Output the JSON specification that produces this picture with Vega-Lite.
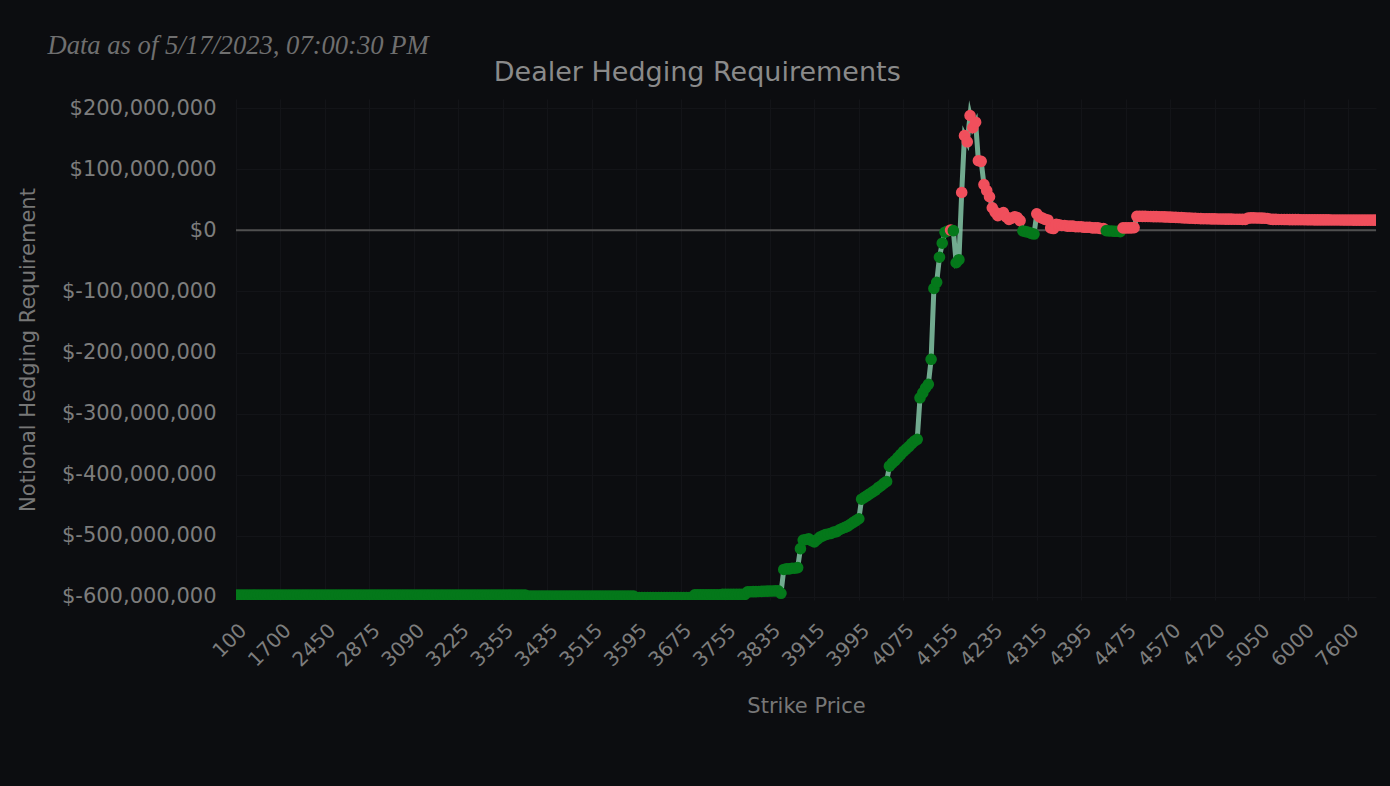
{
  "$schema": "https://vega.github.io/schema/vega-lite/v6.json",
  "background": "#0c0d10",
  "padding": {"left": 17, "top": 32, "right": 15, "bottom": 73},
  "title": {"text": "Data as of 5/17/2023, 07:00:30 PM", "anchor": "start", "frame": "bounds", "dx": 30, "font": "Liberation Serif", "fontStyle": "italic", "fontWeight": "normal", "fontSize": 26.6, "color": "#6f6f6f", "offset": 0},
  "datasets": {
    "d": [
      {"s":100,"v":-597000000},{"s":200,"v":-597000000},{"s":300,"v":-597000000},{"s":400,"v":-597000000},{"s":500,"v":-597000000},{"s":600,"v":-597000000},{"s":700,"v":-597000000},{"s":800,"v":-597000000},{"s":900,"v":-597000000},{"s":1000,"v":-597000000},{"s":1100,"v":-597000000},{"s":1200,"v":-597000000},{"s":1300,"v":-597000000},{"s":1400,"v":-597000000},{"s":1500,"v":-597000000},{"s":1600,"v":-597000000},
      {"s":1700,"v":-597000000},{"s":1750,"v":-597000000},{"s":1800,"v":-597000000},{"s":1850,"v":-597000000},{"s":1900,"v":-597000000},{"s":1950,"v":-597000000},{"s":2000,"v":-597000000},{"s":2050,"v":-597000000},{"s":2100,"v":-597000000},{"s":2150,"v":-597000000},{"s":2200,"v":-597000000},{"s":2250,"v":-597000000},{"s":2300,"v":-597000000},{"s":2350,"v":-597000000},{"s":2400,"v":-597000000},{"s":2425,"v":-597000000},
      {"s":2450,"v":-597000000},{"s":2500,"v":-597000000},{"s":2525,"v":-597000000},{"s":2550,"v":-597000000},{"s":2575,"v":-597000000},{"s":2600,"v":-597000000},{"s":2625,"v":-597000000},{"s":2650,"v":-597000000},{"s":2675,"v":-597000000},{"s":2700,"v":-597000000},{"s":2725,"v":-597000000},{"s":2750,"v":-597000000},{"s":2775,"v":-597000000},{"s":2800,"v":-597000000},{"s":2825,"v":-597000000},{"s":2850,"v":-597000000},
      {"s":2875,"v":-597000000},{"s":2900,"v":-597000000},{"s":2925,"v":-597000000},{"s":2950,"v":-597000000},{"s":2975,"v":-597000000},{"s":3000,"v":-597000000},{"s":3010,"v":-597000000},{"s":3020,"v":-597000000},{"s":3025,"v":-597000000},{"s":3030,"v":-597000000},{"s":3040,"v":-597000000},{"s":3050,"v":-597000000},{"s":3060,"v":-597000000},{"s":3070,"v":-597000000},{"s":3075,"v":-597000000},{"s":3080,"v":-597000000},
      {"s":3090,"v":-597000000},{"s":3100,"v":-597000000},{"s":3110,"v":-597000000},{"s":3120,"v":-597000000},{"s":3125,"v":-597000000},{"s":3130,"v":-597000000},{"s":3140,"v":-597000000},{"s":3150,"v":-597000000},{"s":3160,"v":-597000000},{"s":3170,"v":-597000000},{"s":3175,"v":-597000000},{"s":3180,"v":-597000000},{"s":3190,"v":-597000000},{"s":3200,"v":-597000000},{"s":3210,"v":-597000000},{"s":3220,"v":-597000000},
      {"s":3225,"v":-597000000},{"s":3230,"v":-597000000},{"s":3240,"v":-597000000},{"s":3250,"v":-597000000},{"s":3260,"v":-597000000},{"s":3270,"v":-597000000},{"s":3275,"v":-597000000},{"s":3280,"v":-597000000},{"s":3290,"v":-597000000},{"s":3300,"v":-597000000},{"s":3310,"v":-597000000},{"s":3320,"v":-597000000},{"s":3325,"v":-597000000},{"s":3330,"v":-597000000},{"s":3340,"v":-597000000},{"s":3350,"v":-597000000},
      {"s":3355,"v":-597000000},{"s":3360,"v":-597000000},{"s":3365,"v":-597000000},{"s":3370,"v":-597000000},{"s":3375,"v":-597000000},{"s":3380,"v":-597000000},{"s":3385,"v":-597000000},{"s":3390,"v":-597000000},{"s":3395,"v":-597000000},
      {"s":3400,"v":-598500000},{"s":3405,"v":-598500000},{"s":3410,"v":-598500000},{"s":3415,"v":-598500000},{"s":3420,"v":-598500000},{"s":3425,"v":-598500000},{"s":3430,"v":-598500000},{"s":3435,"v":-598500000},{"s":3440,"v":-598500000},{"s":3445,"v":-598500000},{"s":3450,"v":-598500000},{"s":3455,"v":-598500000},{"s":3460,"v":-598500000},{"s":3465,"v":-598500000},{"s":3470,"v":-598500000},{"s":3475,"v":-598500000},{"s":3480,"v":-598500000},{"s":3485,"v":-598500000},{"s":3490,"v":-598500000},{"s":3495,"v":-598500000},{"s":3500,"v":-598500000},{"s":3505,"v":-598500000},{"s":3510,"v":-598500000},{"s":3515,"v":-598500000},{"s":3520,"v":-598500000},{"s":3525,"v":-598500000},{"s":3530,"v":-598500000},{"s":3535,"v":-598500000},{"s":3540,"v":-598500000},{"s":3545,"v":-598500000},{"s":3550,"v":-598500000},{"s":3555,"v":-598500000},{"s":3560,"v":-598500000},{"s":3565,"v":-598500000},{"s":3570,"v":-598500000},{"s":3575,"v":-598500000},{"s":3580,"v":-598500000},{"s":3585,"v":-598500000},{"s":3590,"v":-598500000},
      {"s":3595,"v":-601000000},{"s":3600,"v":-601000000},{"s":3605,"v":-601000000},{"s":3610,"v":-601000000},{"s":3615,"v":-601000000},{"s":3620,"v":-601000000},{"s":3625,"v":-601000000},{"s":3630,"v":-601000000},{"s":3635,"v":-601000000},{"s":3640,"v":-601000000},{"s":3645,"v":-601000000},{"s":3650,"v":-601000000},{"s":3655,"v":-601000000},{"s":3660,"v":-601000000},{"s":3665,"v":-601000000},{"s":3670,"v":-601000000},{"s":3675,"v":-601000000},{"s":3680,"v":-601000000},{"s":3685,"v":-601000000},{"s":3690,"v":-601000000},{"s":3695,"v":-601000000},
      {"s":3700,"v":-596500000},{"s":3705,"v":-596500000},{"s":3710,"v":-596500000},{"s":3715,"v":-596500000},{"s":3720,"v":-596500000},{"s":3725,"v":-596500000},{"s":3730,"v":-596500000},{"s":3735,"v":-596500000},{"s":3740,"v":-596500000},{"s":3745,"v":-596500000},{"s":3750,"v":-595800000},{"s":3755,"v":-595800000},{"s":3760,"v":-595800000},{"s":3765,"v":-595800000},{"s":3770,"v":-595800000},{"s":3775,"v":-595800000},{"s":3780,"v":-595800000},{"s":3785,"v":-595800000},{"s":3790,"v":-595800000},
      {"s":3795,"v":-591500000},{"s":3800,"v":-591500000},{"s":3805,"v":-591300000},{"s":3810,"v":-591200000},{"s":3815,"v":-591000000},{"s":3820,"v":-590800000},{"s":3825,"v":-590600000},{"s":3830,"v":-590500000},{"s":3835,"v":-590300000},{"s":3840,"v":-590200000},{"s":3845,"v":-590100000},{"s":3850,"v":-590000000},
      {"s":3855,"v":-594000000},
      {"s":3860,"v":-555000000},{"s":3865,"v":-554000000},{"s":3870,"v":-554000000},{"s":3875,"v":-553000000},{"s":3880,"v":-553000000},{"s":3885,"v":-552000000},
      {"s":3890,"v":-521000000},
      {"s":3895,"v":-507000000},{"s":3900,"v":-506000000},{"s":3905,"v":-505000000},{"s":3910,"v":-508000000},{"s":3915,"v":-510000000},{"s":3920,"v":-506000000},{"s":3925,"v":-502000000},{"s":3930,"v":-500000000},{"s":3935,"v":-498000000},{"s":3940,"v":-497000000},{"s":3945,"v":-496000000},{"s":3950,"v":-494000000},{"s":3955,"v":-493000000},
      {"s":3960,"v":-490000000},{"s":3965,"v":-488000000},{"s":3970,"v":-486000000},{"s":3975,"v":-484000000},{"s":3980,"v":-481000000},{"s":3985,"v":-478000000},{"s":3990,"v":-475000000},{"s":3995,"v":-472000000},
      {"s":4000,"v":-440000000},
      {"s":4005,"v":-437000000},{"s":4010,"v":-434000000},{"s":4015,"v":-431000000},{"s":4020,"v":-428000000},{"s":4025,"v":-425000000},{"s":4030,"v":-421000000},{"s":4035,"v":-418000000},{"s":4040,"v":-414000000},{"s":4045,"v":-411000000},
      {"s":4050,"v":-386000000},{"s":4055,"v":-381000000},{"s":4060,"v":-377000000},{"s":4065,"v":-372000000},{"s":4070,"v":-367000000},{"s":4075,"v":-362000000},{"s":4080,"v":-358000000},{"s":4085,"v":-354000000},{"s":4090,"v":-349000000},{"s":4095,"v":-345000000},{"s":4100,"v":-342000000},
      {"s":4105,"v":-274000000},{"s":4110,"v":-266000000},{"s":4115,"v":-258000000},{"s":4120,"v":-252000000},
      {"s":4125,"v":-211000000},{"s":4130,"v":-95000000},{"s":4135,"v":-85000000},{"s":4140,"v":-44000000},{"s":4145,"v":-21000000},{"s":4150,"v":-3000000},{"s":4155,"v":-1000000},{"s":4160,"v":500000},{"s":4165,"v":-500000},{"s":4170,"v":-53000000},{"s":4175,"v":-48000000},
      {"s":4180,"v":62000000},{"s":4185,"v":155000000},{"s":4190,"v":145000000},{"s":4195,"v":188000000},{"s":4200,"v":168000000},{"s":4205,"v":177000000},{"s":4210,"v":114000000},{"s":4215,"v":113000000},{"s":4220,"v":75000000},{"s":4225,"v":65000000},{"s":4230,"v":55000000},{"s":4235,"v":37000000},{"s":4240,"v":30000000},{"s":4245,"v":24000000},{"s":4250,"v":27000000},{"s":4255,"v":29000000},{"s":4260,"v":22000000},{"s":4265,"v":18000000},{"s":4270,"v":20000000},{"s":4275,"v":22000000},{"s":4280,"v":21000000},{"s":4285,"v":16000000},
      {"s":4290,"v":-1000000},{"s":4295,"v":-2000000},{"s":4300,"v":-3000000},{"s":4305,"v":-5000000},{"s":4310,"v":-6000000},
      {"s":4315,"v":27000000},{"s":4320,"v":22000000},{"s":4325,"v":20000000},{"s":4330,"v":18000000},{"s":4335,"v":17000000},{"s":4340,"v":4000000},{"s":4345,"v":3000000},{"s":4350,"v":10000000},{"s":4355,"v":9000000},{"s":4360,"v":8000000},{"s":4365,"v":8000000},{"s":4370,"v":7000000},{"s":4375,"v":7000000},{"s":4380,"v":7000000},{"s":4385,"v":6000000},{"s":4390,"v":6000000},{"s":4395,"v":6000000},{"s":4400,"v":5000000},{"s":4405,"v":5000000},{"s":4410,"v":5000000},{"s":4415,"v":4000000},{"s":4420,"v":4000000},{"s":4425,"v":4000000},{"s":4430,"v":3000000},{"s":4435,"v":3000000},
      {"s":4440,"v":-500000},{"s":4445,"v":-1000000},{"s":4450,"v":-1000000},{"s":4455,"v":-1500000},{"s":4460,"v":-1500000},{"s":4465,"v":-2000000},
      {"s":4470,"v":4000000},{"s":4475,"v":4000000},{"s":4480,"v":4000000},{"s":4485,"v":4000000},{"s":4490,"v":4500000},{"s":4495,"v":23000000},
      {"s":4500,"v":23000000},{"s":4505,"v":22900000},{"s":4510,"v":22800000},{"s":4515,"v":22700000},{"s":4520,"v":22600000},{"s":4525,"v":22500000},{"s":4530,"v":22400000},{"s":4535,"v":22300000},{"s":4540,"v":22200000},{"s":4550,"v":22000000},{"s":4560,"v":21800000},{"s":4570,"v":21600000},{"s":4575,"v":21400000},{"s":4580,"v":21200000},{"s":4590,"v":21000000},{"s":4600,"v":20800000},
      {"s":4610,"v":20500000},{"s":4620,"v":20300000},{"s":4625,"v":20100000},{"s":4630,"v":19900000},{"s":4640,"v":19700000},{"s":4650,"v":19500000},{"s":4660,"v":19300000},{"s":4675,"v":19100000},{"s":4680,"v":19000000},{"s":4700,"v":18900000},{"s":4710,"v":18800000},
      {"s":4720,"v":18700000},{"s":4725,"v":18600000},{"s":4750,"v":18500000},{"s":4775,"v":18500000},{"s":4800,"v":18400000},{"s":4825,"v":18300000},{"s":4850,"v":18300000},{"s":4875,"v":18200000},{"s":4900,"v":18200000},{"s":4925,"v":18100000},{"s":4950,"v":18000000},{"s":4975,"v":18000000},
      {"s":5000,"v":20000000},{"s":5020,"v":20500000},{"s":5025,"v":20500000},{"s":5040,"v":20300000},{"s":5050,"v":20200000},{"s":5100,"v":20000000},{"s":5150,"v":19800000},{"s":5200,"v":19500000},
      {"s":5250,"v":18200000},{"s":5300,"v":18000000},{"s":5350,"v":17900000},{"s":5400,"v":17800000},{"s":5450,"v":17800000},{"s":5500,"v":17700000},{"s":5600,"v":17700000},{"s":5700,"v":17600000},{"s":5750,"v":17600000},{"s":5800,"v":17500000},{"s":5900,"v":17500000},{"s":5950,"v":17400000},
      {"s":6000,"v":17400000},{"s":6100,"v":17300000},{"s":6200,"v":17300000},{"s":6300,"v":17300000},{"s":6400,"v":17200000},{"s":6500,"v":17200000},{"s":6600,"v":17200000},{"s":6700,"v":17100000},{"s":6800,"v":17100000},{"s":6900,"v":17100000},{"s":7000,"v":17000000},{"s":7100,"v":17000000},{"s":7200,"v":17000000},{"s":7300,"v":17000000},{"s":7400,"v":16900000},{"s":7500,"v":16900000},
      {"s":7600,"v":16900000},{"s":7700,"v":16900000},{"s":7800,"v":16800000},{"s":7900,"v":16800000},{"s":8000,"v":16800000},{"s":8100,"v":16800000},{"s":8200,"v":16800000},{"s":8300,"v":16700000},{"s":8400,"v":16700000},{"s":8500,"v":16700000},{"s":8600,"v":16700000}
    ],
    "zero": [{"z": 0}]
  },
  "vconcat": [
    {
      "width": 1140,
      "height": 501,
      "title": {"text": "Dealer Hedging Requirements", "anchor": "middle", "frame": "bounds", "font": "DejaVu Sans", "fontSize": 27, "fontWeight": "normal", "color": "#8a8a8a", "offset": 10},
      "layer": [
        {
          "data": {"name": "zero"},
          "mark": {"type": "rule", "color": "#505050", "strokeWidth": 2},
          "encoding": {
            "y": {"field": "z", "type": "quantitative", "title": "Notional Hedging Requirement",
                  "scale": {"domain": [-605000000, 215000000], "nice": false, "zero": false},
                  "axis": {"values": [-600000000,-500000000,-400000000,-300000000,-200000000,-100000000,0,100000000,200000000],
                           "labelExpr": "(datum.value < 0 ? '$-' : '$') + format(abs(datum.value), ',')"}}
          }
        },
        {
          "data": {"name": "d"},
          "mark": {"type": "line", "color": "#84c7a6", "strokeWidth": 5, "opacity": 0.85, "strokeJoin": "miter", "strokeMiterLimit": 10, "clip": true},
          "encoding": {
            "x": {"field": "s", "type": "ordinal", "sort": null, "scale": {"type": "point", "padding": 0}, "title": "Strike Price",
                  "axis": {"values": [100,1700,2450,2875,3090,3225,3355,3435,3515,3595,3675,3755,3835,3915,3995,4075,4155,4235,4315,4395,4475,4570,4720,5050,6000,7600], "labelAngle": -45}},
            "y": {"field": "v", "type": "quantitative", "title": "Notional Hedging Requirement",
                  "scale": {"domain": [-605000000, 215000000], "nice": false, "zero": false},
                  "axis": {"values": [-600000000,-500000000,-400000000,-300000000,-200000000,-100000000,0,100000000,200000000],
                           "labelExpr": "(datum.value < 0 ? '$-' : '$') + format(abs(datum.value), ',')"}}
          }
        },
        {
          "data": {"name": "d"},
          "mark": {"type": "circle", "size": 135, "opacity": 1, "clip": true},
          "encoding": {
            "x": {"field": "s", "type": "ordinal", "sort": null, "scale": {"type": "point", "padding": 0}, "title": "Strike Price",
                  "axis": {"values": [100,1700,2450,2875,3090,3225,3355,3435,3515,3595,3675,3755,3835,3915,3995,4075,4155,4235,4315,4395,4475,4570,4720,5050,6000,7600], "labelAngle": -45}},
            "y": {"field": "v", "type": "quantitative", "title": "Notional Hedging Requirement",
                  "scale": {"domain": [-605000000, 215000000], "nice": false, "zero": false},
                  "axis": {"values": [-600000000,-500000000,-400000000,-300000000,-200000000,-100000000,0,100000000,200000000],
                           "labelExpr": "(datum.value < 0 ? '$-' : '$') + format(abs(datum.value), ',')"}},
            "color": {"condition": {"test": "datum.v > 0", "value": "#f04f5c"}, "value": "#04781a"}
          }
        }
      ]
    }
  ],
  "config": {
    "view": {"stroke": null},
    "font": "DejaVu Sans",
    "axisX": {
      "labelFontSize": 20, "labelColor": "#7d7d7d", "labelFont": "DejaVu Sans",
      "ticks": false, "domain": false, "grid": true, "gridColor": "#131418", "gridWidth": 1,
      "labelPadding": 20, "titleFontSize": 21, "titleColor": "#777777", "titlePadding": 25, "titleFontWeight": "normal", "titleFont": "DejaVu Sans"
    },
    "axisY": {
      "labelFontSize": 21, "labelColor": "#7d7d7d", "labelFont": "DejaVu Sans",
      "ticks": false, "domain": false, "grid": true, "gridColor": "#131418", "gridWidth": 1,
      "labelPadding": 20, "titleFontSize": 21, "titleColor": "#777777", "titlePadding": 23, "titleFontWeight": "normal", "titleFont": "DejaVu Sans"
    }
  }
}
